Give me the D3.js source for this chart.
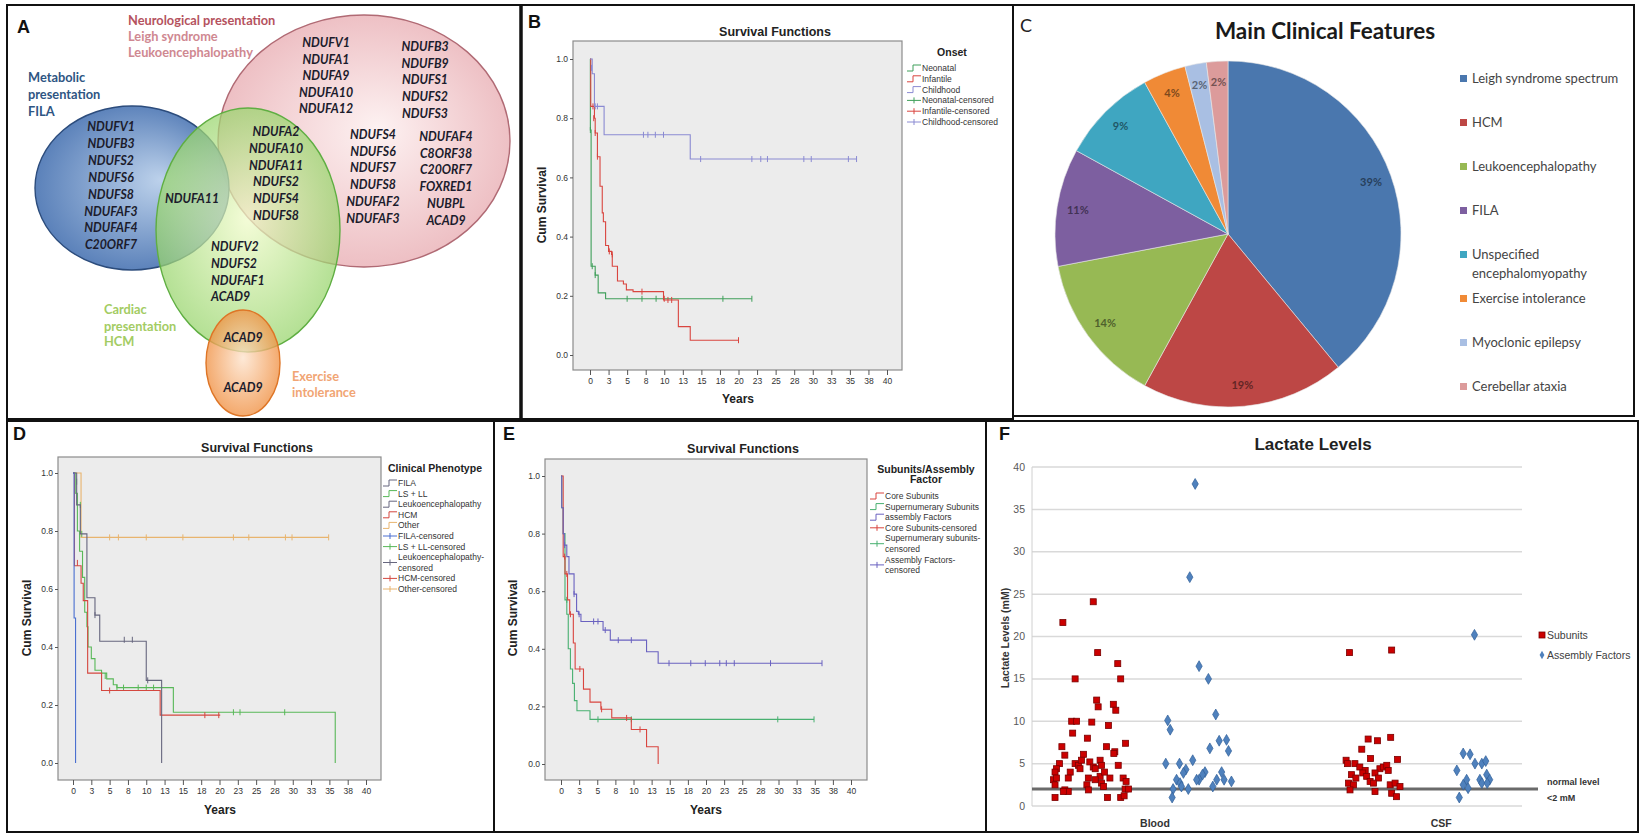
<!DOCTYPE html>
<html><head><meta charset="utf-8">
<script src="https://cdn.jsdelivr.net/npm/d3@7"></script>
<style>body{margin:0;background:#fff}svg{display:block}</style>
</head><body><svg id="fig" width="1642" height="834"></svg>
<script>
// ================= DATA =================
// Panel A – Venn gene lists
const vennSetLabels = {
  neuro: ["Neurological presentation", "Leigh syndrome", "Leukoencephalopathy"],
  metabolic: ["Metabolic", "presentation", "FILA"],
  cardiac: ["Cardiac", "presentation", "HCM"],
  exercise: ["Exercise", "intolerance"]
};
const genesFILA = ["NDUFV1","NDUFB3","NDUFS2","NDUFS6","NDUFS8","NDUFAF3","NDUFAF4","C20ORF7"];
const genesFILA_HCM = ["NDUFA11"];
const genesNeuro_HCM = ["NDUFA2","NDUFA10","NDUFA11","NDUFS2","NDUFS4","NDUFS8"];
const genesHCM = ["NDUFV2","NDUFS2","NDUFAF1","ACAD9"];
const genesHCM_Exercise = ["ACAD9"];
const genesExercise = ["ACAD9"];
const genesNeuroCol1 = ["NDUFV1","NDUFA1","NDUFA9","NDUFA10","NDUFA12"];
const genesNeuroCol2 = ["NDUFB3","NDUFB9","NDUFS1","NDUFS2","NDUFS3"];
const genesNeuroCol3 = ["NDUFS4","NDUFS6","NDUFS7","NDUFS8","NDUFAF2","NDUFAF3"];
const genesNeuroCol4 = ["NDUFAF4","C8ORF38","C20ORF7","FOXRED1","NUBPL","ACAD9"];

// Survival plots: shared axis labels
const survYTicks = [0, 0.2, 0.4, 0.6, 0.8, 1.0];
const survYTickLabels = ["0.0","0.2","0.4","0.6","0.8","1.0"];
const survXTicks = [0,2.5,5,7.5,10,12.5,15,17.5,20,22.5,25,27.5,30,32.5,35,37.5,40];
const survXTickLabels = ["0","3","5","8","10","13","15","18","20","23","25","28","30","33","35","38","40"];

// Panel B – onset  ([years, cum survival])
const onsetLegend = ["Neonatal","Infantile","Childhood","Neonatal-censored","Infantile-censored","Childhood-censored"];
const neonatalSteps = [[0,1],[0.05,0.76],[0.15,0.30],[0.7,0.27],[1.1,0.21],[2.1,0.19],[21.8,0.19]];
const neonatalCensor = [[0.05,0.76],[0.3,0.30],[0.7,0.27],[5.0,0.19],[7.0,0.19],[8.9,0.19],[17.9,0.19],[21.8,0.19]];
const infantileSteps = [[0,1],[0.1,0.84],[0.6,0.80],[0.7,0.75],[1.0,0.67],[1.35,0.57],[1.65,0.48],[1.8,0.45],[2.1,0.37],[2.5,0.35],[2.9,0.34],[3.0,0.30],[3.7,0.25],[4.5,0.24],[4.9,0.22],[5.8,0.214],[9.9,0.186],[11.9,0.096],[13.5,0.05],[20.0,0.05]];
const infantileCensor = [[0.4,0.84],[0.5,0.80],[0.7,0.75],[1.0,0.67],[2.6,0.35],[3.0,0.34],[7.0,0.214],[10.0,0.19],[10.5,0.186],[11.0,0.186],[20.0,0.05]];
const childhoodSteps = [[0,1],[0.3,0.95],[0.6,0.84],[1.9,0.744],[13.5,0.662],[35.9,0.662]];
const childhoodCensor = [[0.2,0.97],[0.7,0.84],[1.0,0.84],[7.2,0.744],[7.8,0.744],[8.8,0.744],[9.9,0.744],[14.9,0.662],[21.8,0.662],[23.0,0.662],[23.9,0.662],[28.8,0.662],[29.8,0.662],[34.8,0.662],[35.9,0.662]];

// Panel C – main clinical features (%)
const pieCategories = ["Leigh syndrome spectrum","HCM","Leukoencephalopathy","FILA","Unspecified\nencephalomyopathy","Exercise intolerance","Myoclonic epilepsy","Cerebellar ataxia"];
const piePercents = [39,19,14,11,9,4,2,2];

// Panel D – clinical phenotype
const phenotypeLegend = ["FILA","LS + LL","Leukoencephalopathy","HCM","Other","FILA-censored","LS + LL-censored","Leukoencephalopathy-\ncensored","HCM-censored","Other-censored"];
const filaSteps = [[0,1],[0.15,0.5],[0.35,0]];
const filaCensor = [];
const lsllSteps = [[0,1],[0.3,0.93],[0.6,0.80],[0.9,0.73],[1.3,0.64],[1.6,0.52],[1.9,0.47],[2.05,0.40],[2.5,0.36],[3.0,0.32],[3.9,0.31],[4.6,0.29],[5.5,0.27],[6.0,0.26],[13.7,0.175],[35.8,0.175],[35.8,0]];
const lsllCensor = [[0.5,0.97],[1.0,0.89],[1.2,0.79],[4.4,0.30],[6.0,0.26],[6.9,0.26],[8.9,0.26],[10.0,0.26],[11.0,0.26],[21.9,0.175],[22.8,0.175],[28.9,0.175]];
const leukoSteps = [[0,1],[0.5,0.89],[1.0,0.79],[1.9,0.57],[3.0,0.51],[3.65,0.42],[10.0,0.285],[12.1,0.285],[12.1,0]];
const leukoCensor = [[3.0,0.51],[7.0,0.425],[8.1,0.425],[10.2,0.285]];
const hcmSteps = [[0,1],[0.2,0.68],[1.1,0.62],[1.4,0.56],[2.0,0.31],[3.9,0.25],[11.9,0.165],[20.1,0.165]];
const hcmCensor = [[0.6,0.69],[5.0,0.25],[18.0,0.165],[19.9,0.165]];
const otherSteps = [[0,1],[1.1,0.778],[34.9,0.778]];
const otherCensor = [[5.0,0.778],[6.2,0.778],[10.0,0.778],[15.0,0.778],[21.9,0.778],[24.0,0.778],[29.0,0.778],[29.9,0.778],[34.9,0.778]];

// Panel E – subunits / assembly factor
const subunitLegend = ["Core Subunits","Supernumerary Subunits","assembly Factors","Core Subunits-censored","Supernumerary subunits-\ncensored","Assembly Factors-\ncensored"];
const coreSteps = [[0,1],[0.3,0.72],[0.55,0.66],[0.9,0.57],[1.2,0.52],[1.7,0.42],[1.95,0.33],[3.1,0.26],[4.0,0.215],[5.5,0.19],[7.0,0.16],[9.7,0.12],[11.8,0.06],[13.4,0.06],[13.4,0]];
const coreCensor = [[0.5,0.72],[0.8,0.66],[1.3,0.52],[2.6,0.33],[5.6,0.19],[9.05,0.16],[10.9,0.12]];
const superSteps = [[0,1],[0.1,0.89],[0.3,0.80],[0.55,0.57],[0.8,0.52],[1.0,0.40],[1.3,0.33],[1.6,0.28],[1.85,0.22],[2.2,0.185],[4.0,0.155],[34.9,0.155]];
const superCensor = [[0.8,0.57],[5.1,0.155],[9.7,0.155],[29.9,0.155],[34.9,0.155]];
const assemblySteps = [[0,1],[0.1,0.89],[0.3,0.80],[0.45,0.76],[0.8,0.72],[1.1,0.66],[1.8,0.59],[2.15,0.53],[2.4,0.52],[2.75,0.495],[5.8,0.465],[6.8,0.43],[11.8,0.39],[13.4,0.35],[36.0,0.35]];
const assemblyCensor = [[0.5,0.76],[1.8,0.59],[2.5,0.52],[4.5,0.495],[5.1,0.495],[6.1,0.465],[7.9,0.43],[9.7,0.43],[14.9,0.35],[17.9,0.35],[19.9,0.35],[21.9,0.35],[22.8,0.35],[23.9,0.35],[28.9,0.35],[36.0,0.35]];

// Panel F – lactate levels (mM); x = jitter position on 0–100 axis
const lactateYTicks = [0,5,10,15,20,25,30,35,40];
const lactateCategories = ["Blood","CSF"];
const lactateCategoryPos = [25.1, 83.5];
const lactateSeries = ["Subunits","Assembly Factors"];
const normalLevel = 2;
const normalLevelLabel = ["normal level","<2 mM"];
const bloodSubunits = [[6.3,21.65],[12.5,24.1],[13.4,18.1],[17.5,16.8],[8.8,15.0],[18.1,15.0],[13.2,12.5],[13.5,11.7],[16.6,12.0],[17.1,11.3],[8.1,10.0],[9.1,10.0],[12.2,9.9],[15.6,9.5],[8.3,8.6],[11.3,8.0],[6.1,7.0],[19.1,7.4],[15.2,7.0],[6.7,6.0],[10.5,6.1],[16.9,6.4],[16.7,6.2],[5.6,5.0],[5.0,4.4],[4.7,4.0],[8.8,5.0],[9.5,4.8],[10.1,5.4],[9.8,4.4],[11.8,5.2],[12.5,4.6],[12.9,4.4],[13.9,5.4],[14.2,4.8],[17.6,4.8],[7.8,4.0],[7.4,3.3],[4.4,3.1],[5.0,3.3],[4.7,2.5],[11.5,3.3],[11.2,2.5],[11.5,1.9],[13.9,3.5],[14.2,2.7],[14.6,2.3],[15.9,3.3],[18.6,3.3],[19.2,2.9],[6.7,1.9],[7.4,1.7],[4.7,1.0],[15.4,1.0],[18.1,1.0],[18.8,1.2],[19.0,2.0],[19.7,2.0],[14.8,4.0],[12.9,3.1],[6.4,1.7]];
const bloodAssembly = [[33.3,38.0],[32.2,27.0],[34.1,16.5],[36.0,15.0],[37.5,10.8],[27.7,10.1],[28.2,9.0],[38.2,7.7],[39.7,7.8],[36.3,6.8],[40.1,6.5],[27.3,5.0],[30.1,5.0],[32.8,5.4],[31.4,4.3],[30.9,3.9],[35.3,4.0],[34.8,3.7],[34.1,3.1],[33.6,3.1],[38.7,4.0],[29.5,3.1],[30.2,2.7],[30.5,2.3],[37.7,3.1],[39.2,3.1],[40.7,2.9],[28.8,2.0],[31.9,2.0],[36.9,2.3],[28.6,1.0]];
const csfSubunits = [[64.8,18.1],[73.4,18.4],[68.6,7.9],[70.5,7.7],[73.2,8.1],[67.3,6.7],[64.1,5.4],[64.4,5.0],[69.1,5.6],[74.6,5.5],[65.9,5.0],[66.9,4.6],[68.0,4.2],[67.5,3.9],[71.0,4.4],[71.7,4.6],[72.4,4.8],[72.7,4.2],[65.2,3.7],[66.1,3.3],[68.3,3.5],[70.0,3.9],[70.7,3.3],[64.6,2.7],[65.6,2.5],[69.0,2.9],[69.7,2.7],[73.1,2.5],[74.1,2.7],[75.1,2.3],[64.9,1.9],[70.0,1.7],[73.4,1.5],[74.4,1.1]];
const csfAssembly = [[90.3,20.2],[88.0,6.2],[89.4,6.1],[90.4,5.0],[91.8,5.0],[92.6,5.3],[86.7,4.2],[92.8,3.7],[88.7,3.1],[91.4,3.1],[93.4,3.1],[91.8,2.7],[92.9,2.7],[88.0,2.5],[89.0,2.1],[87.2,1.0]];

// ================= DRAWING =================
const svg = d3.select("#fig");
svg.append("rect").attr("width",1642).attr("height",834).attr("fill","#fff");
const ARIAL = "'Liberation Sans', Arial, sans-serif";
const LATO = "Lato, 'Open Sans', sans-serif";

// ---------- Panel A: Venn ----------
(function(){
  const g = svg.append("g");
  const defs = svg.append("defs");
  function grad(id, c0, c1, fx, fy){
    const rg = defs.append("radialGradient").attr("id",id).attr("cx","50%").attr("cy","50%").attr("r","55%").attr("fx",fx).attr("fy",fy);
    rg.append("stop").attr("offset","0%").attr("stop-color",c0);
    rg.append("stop").attr("offset","100%").attr("stop-color",c1);
  }
  grad("gRed","#fdf1f1","#ebb7bc","55%","45%");
  grad("gBlue","#b9cfea","#4a74b2","65%","45%");
  grad("gGreen","#f0fbc8","#8fd163","50%","45%");
  grad("gOrange","#fde3cc","#ef8a38","50%","45%");
  const ell = [
    {cx:364, cy:141, rx:146, ry:126, fill:"url(#gRed)", stroke:"#b06a74", op:0.95},
    {cx:132, cy:188, rx:97, ry:82, fill:"url(#gBlue)", stroke:"#2c4c7c", op:0.95},
    {cx:248, cy:230, rx:92, ry:122, fill:"url(#gGreen)", stroke:"#5fae42", op:0.72},
    {cx:243, cy:363, rx:37, ry:53, fill:"url(#gOrange)", stroke:"#de7526", op:0.78}
  ];
  g.selectAll("ellipse").data(ell).join("ellipse")
    .attr("cx",d=>d.cx).attr("cy",d=>d.cy).attr("rx",d=>d.rx).attr("ry",d=>d.ry)
    .attr("fill",d=>d.fill).attr("fill-opacity",d=>d.op).attr("stroke",d=>d.stroke).attr("stroke-width",1.4);

  const heads = [
    {lines:vennSetLabels.neuro, x:128, y:[25,41,57], colors:["#b5525e","#cf8891","#cf8891"]},
    {lines:vennSetLabels.metabolic, x:28, y:[82,99,116], colors:["#2e5583","#2e5583","#2e5583"]},
    {lines:vennSetLabels.cardiac, x:104, y:[314,331,346], colors:["#a3cc63","#a3cc63","#a3cc63"]},
    {lines:vennSetLabels.exercise, x:292, y:[381,397], colors:["#f1a574","#f1a574"]}
  ];
  heads.forEach(h=>{
    h.lines.forEach((t,i)=>{
      g.append("text").attr("x",h.x).attr("y",h.y[i]).text(t)
        .attr("font-family",LATO).attr("font-weight",700).attr("font-size",12.8).attr("fill",h.colors[i]);
    });
  });
  const geneBlocks = [
    {genes:genesFILA, x:111, y0:131, dy:16.9, anchor:"middle"},
    {genes:genesFILA_HCM, x:192, y0:203, dy:17, anchor:"middle"},
    {genes:genesNeuro_HCM, x:276, y0:136, dy:16.8, anchor:"middle"},
    {genes:genesHCM, x:211, y0:251, dy:16.8, anchor:"start"},
    {genes:genesHCM_Exercise, x:243, y0:342, dy:17, anchor:"middle"},
    {genes:genesExercise, x:243, y0:392, dy:17, anchor:"middle"},
    {genes:genesNeuroCol1, x:326, y0:47, dy:16.6, anchor:"middle"},
    {genes:genesNeuroCol2, x:425, y0:51, dy:16.7, anchor:"middle"},
    {genes:genesNeuroCol3, x:373, y0:139, dy:16.7, anchor:"middle"},
    {genes:genesNeuroCol4, x:446, y0:141, dy:16.7, anchor:"middle"}
  ];
  geneBlocks.forEach(b=>{
    g.selectAll(null).data(b.genes).join("text")
      .attr("x",b.x).attr("y",(d,i)=>b.y0+i*b.dy).attr("text-anchor",b.anchor)
      .attr("font-family",LATO).attr("font-style","italic").attr("font-weight",700)
      .attr("font-size",12.3).attr("fill","#1c1c2c").text(d=>d);
  });
})();

// ---------- KM helper ----------
function drawKM(cfg){
  const g = svg.append("g");
  const x = d3.scaleLinear().domain([0,40]).range(cfg.xr);
  const y = d3.scaleLinear().domain([0,1]).range(cfg.yr);
  const [fx,fy,fw,fh] = cfg.frame;
  g.append("rect").attr("x",fx).attr("y",fy).attr("width",fw).attr("height",fh)
    .attr("fill","#ececec").attr("stroke","#8c8c8c").attr("stroke-width",1.2);
  const ax = g.append("g").attr("transform",`translate(0,${fy+fh})`)
    .call(d3.axisBottom(x).tickValues(survXTicks).tickFormat((d,i)=>survXTickLabels[i]).tickSize(5).tickPadding(3));
  ax.select(".domain").remove();
  ax.selectAll("line").attr("stroke","#555");
  ax.selectAll("text").attr("font-family",ARIAL).attr("font-size",8.5).attr("fill","#333");
  const ay = g.append("g").attr("transform",`translate(${fx},0)`)
    .call(d3.axisLeft(y).tickValues(survYTicks).tickFormat((d,i)=>survYTickLabels[i]).tickSize(3).tickPadding(2));
  ay.select(".domain").remove();
  ay.selectAll("line").attr("stroke","#555");
  ay.selectAll("text").attr("font-family",ARIAL).attr("font-size",8.5).attr("fill","#333");
  g.append("text").attr("x",cfg.title[0]).attr("y",cfg.title[1]).attr("text-anchor","middle")
    .attr("font-family",ARIAL).attr("font-weight",700).attr("font-size",12.5).attr("fill","#222").text("Survival Functions");
  g.append("text").attr("x",cfg.xlab[0]).attr("y",cfg.xlab[1]).attr("text-anchor","middle")
    .attr("font-family",ARIAL).attr("font-weight",700).attr("font-size",12).attr("fill","#222").text("Years");
  g.append("text").attr("transform",`translate(${cfg.ylab[0]},${cfg.ylab[1]}) rotate(-90)`).attr("text-anchor","middle")
    .attr("dominant-baseline","central")
    .attr("font-family",ARIAL).attr("font-weight",700).attr("font-size",12).attr("fill","#222").text("Cum Survival");
  const line = d3.line().x(d=>x(d[0])).y(d=>y(d[1])).curve(d3.curveStepAfter);
  cfg.series.forEach(s=>{
    g.append("path").datum(s.steps).attr("d",line).attr("fill","none").attr("stroke",s.color).attr("stroke-width",1.1);
    g.selectAll(null).data(s.censor).join("line")
      .attr("x1",d=>x(d[0])).attr("x2",d=>x(d[0])).attr("y1",d=>y(d[1])-3).attr("y2",d=>y(d[1])+3)
      .attr("stroke",s.color).attr("stroke-width",1);
  });
  // legend
  const L = cfg.legend;
  L.title.forEach((t,i)=>{
    g.append("text").attr("x",L.tx).attr("y",L.ty+i*10).attr("text-anchor","middle")
      .attr("font-family",ARIAL).attr("font-weight",700).attr("font-size",10.5).attr("fill","#222").text(t);
  });
  let yy = L.y0;
  L.labels.forEach((lab,i)=>{
    const lines = lab.split("\n");
    const col = L.colors[i];
    const sy = yy + (lines.length-1)*L.dy/2;
    if (L.types[i]==="step"){
      g.append("path").attr("d",`M${L.x},${sy+3}H${L.x+6}V${sy-3}H${L.x+14}`).attr("fill","none").attr("stroke",col).attr("stroke-width",1);
    } else {
      g.append("line").attr("x1",L.x).attr("x2",L.x+14).attr("y1",sy).attr("y2",sy).attr("stroke",col);
      g.append("line").attr("x1",L.x+7).attr("x2",L.x+7).attr("y1",sy-3).attr("y2",sy+3).attr("stroke",col);
    }
    lines.forEach((t,j)=>{
      g.append("text").attr("x",L.x+15).attr("y",yy+j*L.dy+3).attr("font-family",ARIAL).attr("font-size",8.5).attr("fill","#333").text(t);
    });
    yy += lines.length*L.dy;
  });
}

const cGreen="#3f9f5a", cRed="#d9453f", cLav="#8a8ad2";
drawKM({
  frame:[573,41,329,329], xr:[590,887], yr:[355,59], title:[775,36], xlab:[738,403], ylab:[542,205],
  legend:{title:["Onset"], tx:952, ty:56, x:907, y0:68, dy:10.8, labels:onsetLegend,
    types:["step","step","step","censor","censor","censor"], colors:[cGreen,cRed,cLav,cGreen,cRed,cLav]},
  series:[{steps:neonatalSteps,censor:neonatalCensor,color:cGreen},{steps:infantileSteps,censor:infantileCensor,color:cRed},{steps:childhoodSteps,censor:childhoodCensor,color:cLav}]
});
const dBlue="#4a6fd0", dGreen="#58b858", dDark="#66667e", dRed="#d4473f", dOr="#e8b46e";
drawKM({
  frame:[58,457,323,323], xr:[73,366], yr:[763,473], title:[257,452], xlab:[220,814], ylab:[27,618],
  legend:{title:["Clinical Phenotype"], tx:435, ty:472, x:383, y0:483, dy:10.6, labels:phenotypeLegend,
    types:["step","step","step","step","step","censor","censor","censor","censor","censor"],
    colors:[dDark,dGreen,dDark,dRed,dOr,dBlue,dGreen,dDark,dRed,dOr]},
  series:[{steps:otherSteps,censor:otherCensor,color:dOr},{steps:lsllSteps,censor:lsllCensor,color:dGreen},{steps:hcmSteps,censor:hcmCensor,color:dRed},{steps:leukoSteps,censor:leukoCensor,color:dDark},{steps:filaSteps,censor:filaCensor,color:dBlue}]
});
const eRed="#d9453f", eGreen="#48b070", ePur="#6a62c0";
drawKM({
  frame:[545,459,322,321], xr:[561,851], yr:[764,476], title:[743,453], xlab:[706,814], ylab:[513,618],
  legend:{title:["Subunits/Assembly","Factor"], tx:926, ty:473, x:870, y0:496, dy:10.6, labels:subunitLegend,
    types:["step","step","step","censor","censor","censor"], colors:[eRed,eGreen,ePur,eRed,eGreen,ePur]},
  series:[{steps:superSteps,censor:superCensor,color:eGreen},{steps:coreSteps,censor:coreCensor,color:eRed},{steps:assemblySteps,censor:assemblyCensor,color:ePur}]
});

// ---------- Panel C: pie ----------
(function(){
  const g = svg.append("g");
  const colors = ["#4a77ae","#bd4745","#97b954","#7d5fa0","#3fa6c1","#f08a36","#a9bfe3","#dc9b9b"];
  const cx=1228, cy=234, R=173;
  const pie = d3.pie().sort(null).value(d=>d)(piePercents);
  const arc = d3.arc().innerRadius(0).outerRadius(R);
  const lab = d3.arc().innerRadius(152).outerRadius(152);
  const pg = g.append("g").attr("transform",`translate(${cx},${cy})`);
  pg.selectAll("path").data(pie).join("path").attr("d",arc).attr("fill",(d,i)=>colors[i]).attr("stroke","#e8e8e8").attr("stroke-width",0.6);
  pg.selectAll("text").data(pie).join("text")
    .attr("transform",d=>`translate(${lab.centroid(d)})`).attr("text-anchor","middle").attr("dy","0.35em")
    .attr("font-family",LATO).attr("font-weight",700).attr("font-size",11)
    .attr("fill",(d,i)=>d3.color(colors[i]).darker(1.8)).text(d=>d.data+"%");
  g.append("text").attr("x",1325).attr("y",39).attr("text-anchor","middle")
    .attr("font-family",LATO).attr("font-weight",700).attr("font-size",22.5).attr("fill","#1a1a1a").text("Main Clinical Features");
  g.append("text").attr("x",1020).attr("y",32).attr("font-family",LATO).attr("font-size",18).attr("fill","#222").text("C");
  pieCategories.forEach((c,i)=>{
    const y0 = 79 + i*44;
    g.append("rect").attr("x",1460).attr("y",y0-4).attr("width",7).attr("height",7).attr("fill",colors[i]);
    c.split("\n").forEach((t,j)=>{
      g.append("text").attr("x",1472).attr("y",y0+4+j*19).attr("font-family",LATO).attr("font-size",13)
        .attr("fill","#444").text(t);
    });
  });
})();

// ---------- Panel F: lactate ----------
(function(){
  const g = svg.append("g");
  const x = d3.scaleLinear().domain([0,100]).range([1032,1522]);
  const y = d3.scaleLinear().domain([0,40]).range([806,467]);
  g.selectAll(null).data(lactateYTicks).join("line")
    .attr("x1",1032).attr("x2",1522).attr("y1",d=>y(d)).attr("y2",d=>y(d)).attr("stroke","#d9d9d9").attr("stroke-width",1.5);
  g.append("line").attr("x1",1032).attr("x2",1032).attr("y1",y(40)).attr("y2",y(0)).attr("stroke","#d0d0d0");
  g.selectAll(null).data(lactateYTicks).join("text")
    .attr("x",1025).attr("y",d=>y(d)+3.5).attr("text-anchor","end").attr("font-family",ARIAL).attr("font-size",10.5)
    .attr("fill","#595959").text(d=>d);
  g.append("text").attr("transform",`translate(1005,638) rotate(-90)`).attr("text-anchor","middle").attr("dominant-baseline","central")
    .attr("font-family",ARIAL).attr("font-weight",700).attr("font-size",10.5).attr("fill","#333").text("Lactate Levels (mM)");
  g.selectAll(null).data(lactateCategories).join("text")
    .attr("x",(d,i)=>x(lactateCategoryPos[i])).attr("y",827).attr("text-anchor","middle")
    .attr("font-family",ARIAL).attr("font-weight",700).attr("font-size",10.5).attr("fill","#333").text(d=>d);
  g.append("text").attr("x",1313).attr("y",450).attr("text-anchor","middle")
    .attr("font-family",ARIAL).attr("font-weight",700).attr("font-size",17).attr("fill","#222").text("Lactate Levels");
  // normal line
  g.append("line").attr("x1",1032).attr("x2",1538).attr("y1",y(normalLevel)).attr("y2",y(normalLevel)).attr("stroke","#6a6a6a").attr("stroke-width",3);
  normalLevelLabel.forEach((t,i)=>g.append("text").attr("x",1547).attr("y",785+i*16).attr("font-family",ARIAL).attr("font-weight",700)
    .attr("font-size",9).attr("fill","#333").text(t));
  const sq = (sel)=>sel.join("rect").attr("x",d=>x(d[0])-3).attr("y",d=>y(d[1])-3).attr("width",6).attr("height",6)
    .attr("fill","#cc0000").attr("stroke","#7a0000").attr("stroke-width",0.8);
  const dia = d3.symbol().type(d3.symbolDiamond).size(34);
  const dm = (sel)=>sel.join("path").attr("d",dia).attr("transform",d=>`translate(${x(d[0])},${y(d[1])})`)
    .attr("fill","#4f81bd").attr("stroke","#2f5f98").attr("stroke-width",0.7);
  sq(g.selectAll(null).data(bloodSubunits));
  sq(g.selectAll(null).data(csfSubunits));
  dm(g.selectAll(null).data(bloodAssembly));
  dm(g.selectAll(null).data(csfAssembly));
  // legend
  g.append("rect").attr("x",1539).attr("y",632).attr("width",6).attr("height",6).attr("fill","#cc0000").attr("stroke","#7a0000").attr("stroke-width",0.8);
  g.append("path").attr("d",d3.symbol().type(d3.symbolDiamond).size(20)).attr("transform","translate(1542,655)").attr("fill","#4f81bd");
  lactateSeries.forEach((t,i)=>g.append("text").attr("x",1547).attr("y",639+i*20).attr("font-family",ARIAL).attr("font-size",10.5).attr("fill","#404040").text(t));
})();

// ---------- panel letters ----------
[["A",17,33],["B",528,28],["D",13,440],["E",503,440],["F",999,440]].forEach(([t,xx,yy])=>{
  svg.append("text").attr("x",xx).attr("y",yy).attr("font-family",ARIAL).attr("font-weight",700).attr("font-size",18).attr("fill","#111").text(t);
});

// ---------- frames ----------
const frames = [[7,5,514,414],[521,5,492,414],[1013,5,621,411],[7,421,487,411],[494,421,492,411],[986,421,652,411]];
svg.append("g").selectAll("rect").data(frames).join("rect")
  .attr("x",d=>d[0]).attr("y",d=>d[1]).attr("width",d=>d[2]).attr("height",d=>d[3])
  .attr("fill","none").attr("stroke","#111").attr("stroke-width",2);
svg.append("line").attr("x1",521).attr("x2",521).attr("y1",5).attr("y2",421).attr("stroke","#111").attr("stroke-width",3.5);
</script></body></html>
